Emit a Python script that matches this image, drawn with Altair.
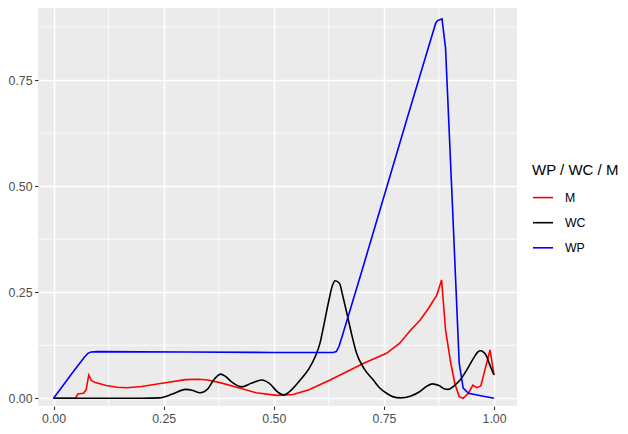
import altair as alt
import pandas as pd

# ---- data ----
x_m = [0.0, 0.05, 0.055, 0.068, 0.074, 0.080, 0.086, 0.095, 0.12, 0.145, 0.166, 0.2, 0.25, 0.3, 0.33,
       0.35, 0.378, 0.42, 0.46, 0.507, 0.544, 0.58, 0.628, 0.67, 0.703, 0.756, 0.786, 0.81, 0.832,
       0.85, 0.87, 0.881, 0.89, 0.902, 0.911, 0.921, 0.93, 0.942, 0.952, 0.961, 0.97, 0.991, 1.0]
y_m = [0.0, 0.0, 0.010, 0.012, 0.020, 0.055, 0.042, 0.037, 0.030, 0.026, 0.025, 0.028, 0.036, 0.044, 0.045,
       0.043, 0.037, 0.025, 0.013, 0.007, 0.009, 0.020, 0.043, 0.065, 0.082, 0.106, 0.130, 0.160, 0.184,
       0.210, 0.243, 0.279, 0.161, 0.082, 0.035, 0.004, 0.0, 0.012, 0.031, 0.025, 0.029, 0.114, 0.055]

x_wc = [0.0, 0.2, 0.24, 0.27, 0.3, 0.315, 0.333, 0.35, 0.365, 0.38, 0.39, 0.405, 0.427, 0.45, 0.473,
        0.49, 0.51, 0.522, 0.535, 0.56, 0.58, 0.594, 0.605, 0.613, 0.625, 0.633, 0.639, 0.649, 0.657,
        0.666, 0.677, 0.688, 0.705, 0.726, 0.74, 0.756, 0.77, 0.787, 0.81, 0.832, 0.848, 0.86, 0.875,
        0.888, 0.896, 0.91, 0.923, 0.94, 0.955, 0.963, 0.97, 0.976, 0.982, 0.99, 1.0]
y_wc = [0.0, 0.0, 0.001, 0.010, 0.021, 0.019, 0.013, 0.022, 0.045, 0.057, 0.052, 0.038, 0.027, 0.036, 0.043,
        0.035, 0.014, 0.008, 0.015, 0.043, 0.070, 0.098, 0.130, 0.169, 0.230, 0.265, 0.277, 0.271, 0.240,
        0.200, 0.150, 0.106, 0.070, 0.043, 0.025, 0.012, 0.004, 0.001, 0.005, 0.016, 0.029, 0.034, 0.030,
        0.022, 0.021, 0.030, 0.043, 0.070, 0.097, 0.109, 0.112, 0.109, 0.102, 0.080, 0.055]

x_wp = [0.0, 0.02, 0.04, 0.06, 0.07, 0.078, 0.085, 0.1, 0.3, 0.5, 0.635, 0.642, 0.648, 0.655,
        0.7, 0.75, 0.8, 0.85, 0.868, 0.872, 0.882, 0.89, 0.905, 0.921, 0.93, 0.942, 0.97, 1.0]
y_wp = [0.0, 0.028, 0.056, 0.083, 0.097, 0.106, 0.109, 0.110, 0.109, 0.108, 0.108, 0.110, 0.122, 0.145,
        0.300, 0.475, 0.650, 0.823, 0.885, 0.890, 0.894, 0.825, 0.470, 0.083, 0.024, 0.012, 0.006, 0.0]

series_names = ["M", "WC", "WP"]
series_colors = ["#FF0000", "#000000", "#0000FF"]
tick_values = [0.0, 0.25, 0.5, 0.75, 1.0]
minor_values = [0.125, 0.375, 0.625, 0.875]

rows = []
for name, xs, ys in [("M", x_m, y_m), ("WC", x_wc, y_wc), ("WP", x_wp, y_wp)]:
    for i, (a, b) in enumerate(zip(xs, ys)):
        rows.append({"x": a, "y": b, "series": name, "i": i})
df = pd.DataFrame(rows)
minor_df = pd.DataFrame({"v": minor_values})

xscale = alt.Scale(domain=[-0.0352, 1.0522], nice=False, zero=False)
yscale = alt.Scale(domain=[-0.0181, 0.9197], nice=False, zero=False)
cscale = alt.Scale(domain=series_names, range=series_colors)

def mk_axis():
    return alt.Axis(values=tick_values, format=".2f", title=None, grid=True,
                    gridColor="white", gridWidth=1.6, domain=False,
                    tickColor="#333333", tickSize=3.5, tickWidth=1.1,
                    labelColor="#4D4D4D", labelFontSize=12.3, labelPadding=2.5,
                    labelFont="Liberation Sans", labelFlush=False, labelOverlap=False)

vminor = alt.Chart(minor_df).mark_rule(color="white", strokeWidth=0.8).encode(
    x=alt.X("v:Q", scale=xscale, axis=mk_axis())
)
hminor = alt.Chart(minor_df).mark_rule(color="white", strokeWidth=0.8).encode(
    y=alt.Y("v:Q", scale=yscale, axis=mk_axis())
)

def series_layer(name, interp):
    return alt.Chart(df).transform_filter(
        alt.datum.series == name
    ).mark_line(strokeWidth=1.6, clip=True, interpolate=interp).encode(
        x=alt.X("x:Q", scale=xscale, axis=mk_axis()),
        y=alt.Y("y:Q", scale=yscale, axis=mk_axis()),
        color=alt.Color("series:N", scale=cscale,
                        legend=alt.Legend(title="WP / WC / M", orient="none",
                                          legendX=494, legendY=155)),
        order="i:Q",
    )

chart = alt.layer(
    vminor, hminor,
    series_layer("M", "linear"),
    series_layer("WC", "monotone"),
    series_layer("WP", "linear"),
).properties(
    width=479, height=398,
    autosize=alt.AutoSizeParams(type="none"),
    padding={"left": 30, "top": 0, "right": 103, "bottom": 20},
).configure_view(
    fill="#EBEBEB", stroke=None
).configure_legend(
    titleFontSize=15, titleFont="Liberation Sans", titleColor="black", titleFontWeight="normal",
    labelFontSize=12.3, labelFont="Liberation Sans", labelColor="black",
    symbolType="stroke", symbolSize=400, symbolStrokeWidth=1.6,
    rowPadding=7.1, titlePadding=8.6, labelOffset=11, padding=0,
)

chart.save("out.html", embed_options={"renderer": "svg", "actions": False})
